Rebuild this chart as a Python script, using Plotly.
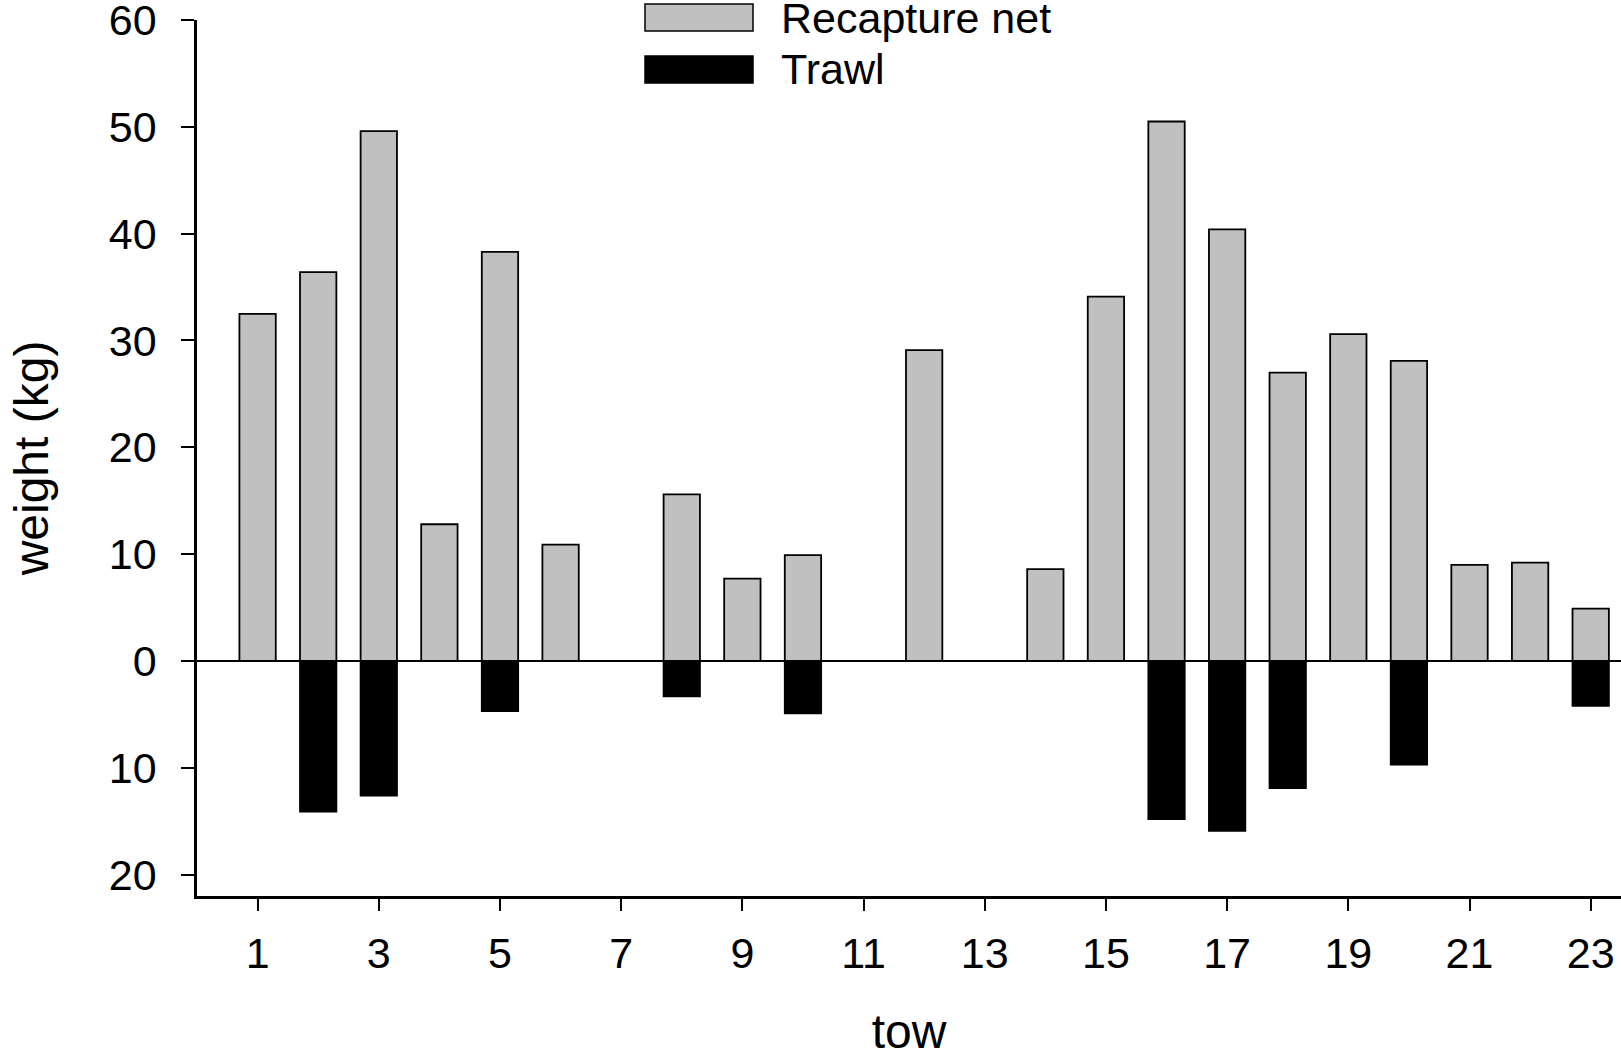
import plotly.graph_objects as go

# Catch weight per tow (kg); trawl catch plotted downward
tows = list(range(1, 24))
recapture_net = [32.5, 36.4, 49.6, 12.8, 38.3, 10.9, 0, 15.6, 7.7, 9.9, 0, 29.1,
                 0, 8.6, 34.1, 50.5, 40.4, 27.0, 30.6, 28.1, 9.0, 9.2, 4.9]
trawl = [0, 14.1, 12.6, 0, 4.7, 0, 0, 3.3, 0, 4.9, 0, 0,
         0, 0, 0, 14.8, 15.9, 11.9, 0, 9.7, 0, 0, 4.2]

y_tick_vals = [-20, -10, 0, 10, 20, 30, 40, 50, 60]
y_tick_text = ["20", "10", "0", "10", "20", "30", "40", "50", "60"]
x_tick_vals = list(range(1, 24, 2))

FONT = "Liberation Sans, Arial, sans-serif"
W, H = 1621, 1058
ML, MR, MT, MB = 197, 0, 20, 162
PW, PH = W - ML - MR, H - MT - MB

fig = go.Figure()
fig.add_trace(go.Bar(
    x=tows, y=recapture_net, width=0.6, name="Recapture net",
    marker=dict(color="#c0c0c0", line=dict(color="black", width=1.8)),
))
fig.add_trace(go.Bar(
    x=tows, y=[-v for v in trawl], width=0.6, name="Trawl",
    marker=dict(color="black", line=dict(color="black", width=1.8)),
))


def px_x(p):
    return (p - ML) / PW


def px_y(p):
    return (H - MB - p) / PH


# Legend swatches and labels
legend_items = [("Recapture net", "#c0c0c0", 4, 31), ("Trawl", "black", 56, 83)]
for label, color, top, bottom in legend_items:
    fig.add_shape(type="rect", xref="paper", yref="paper",
                  x0=px_x(645), x1=px_x(753), y0=px_y(bottom), y1=px_y(top),
                  fillcolor=color, line=dict(color="black", width=1.5))
    fig.add_annotation(xref="paper", yref="paper", x=px_x(779), y=px_y((top + bottom) / 2),
                       text=label, showarrow=False, xanchor="left", yanchor="middle",
                       font=dict(family=FONT, size=43, color="black"))

fig.update_layout(
    width=W, height=H,
    margin=dict(l=ML, r=MR, t=MT, b=MB),
    barmode="overlay",
    showlegend=False,
    plot_bgcolor="white", paper_bgcolor="white",
    font=dict(family=FONT, size=43, color="black"),
    xaxis=dict(
        range=[0, 23.5], tickvals=x_tick_vals, ticks="outside", ticklen=12, tickwidth=2,
        tickcolor="black", showline=True, linecolor="black", linewidth=2.5,
        showgrid=False, zeroline=False, ticklabelstandoff=6, automargin=False,
        ticklabeloverflow="allow",
        title=dict(text="tow", standoff=44, font=dict(size=48)),
    ),
    yaxis=dict(
        range=[-22, 60], tickvals=y_tick_vals, ticktext=y_tick_text, ticks="outside",
        ticklen=13, tickwidth=2, tickcolor="black", showline=True, linecolor="black",
        linewidth=2.5, showgrid=False, zeroline=True, zerolinecolor="black",
        zerolinewidth=2, ticklabelstandoff=16, automargin=False,
        ticklabeloverflow="allow",
        title=dict(text="weight (kg)", standoff=46, font=dict(size=48)),
    ),
)

fig.write_html("out.html")
